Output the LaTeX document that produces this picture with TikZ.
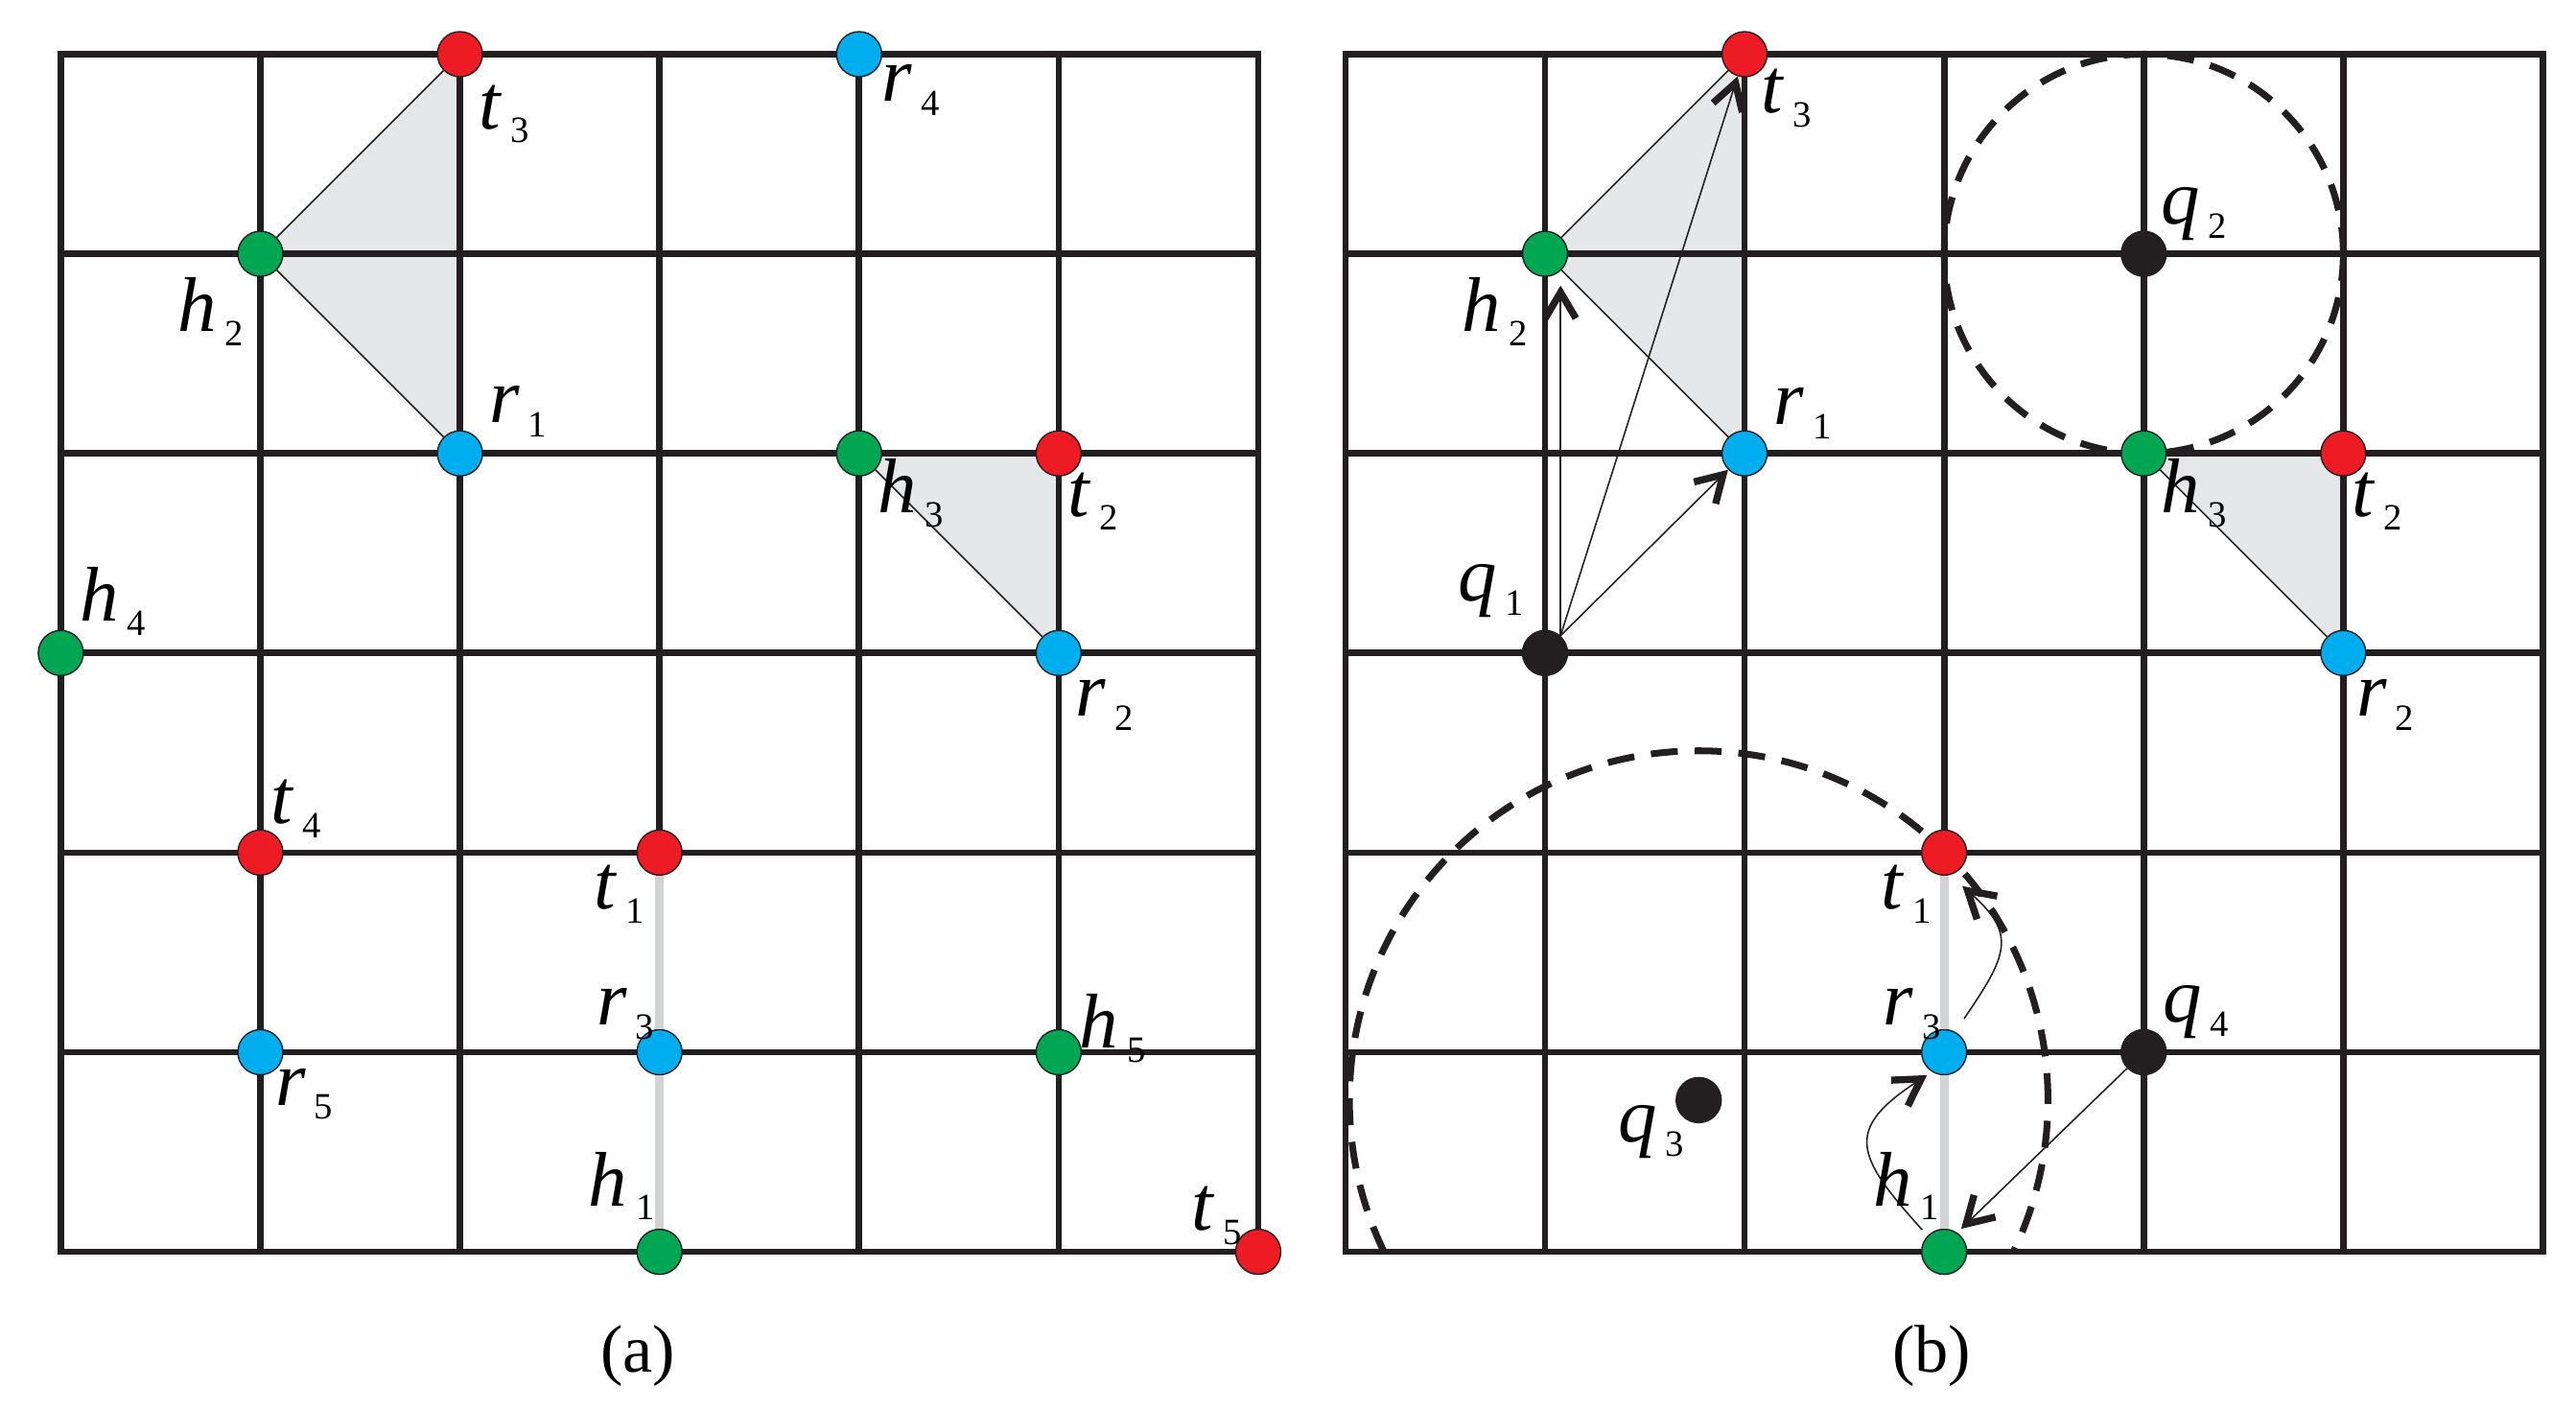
\documentclass[tikz,border=0pt]{standalone}
\usepackage{fontspec}
\setmainfont{Liberation Serif}
\usetikzlibrary{arrows.meta}
\definecolor{ptred}{HTML}{ED1C24}
\definecolor{ptgreen}{HTML}{00A651}
\definecolor{ptblue}{HTML}{00AEEF}
\definecolor{ptblack}{HTML}{231F20}
\definecolor{gridcol}{HTML}{231F20}
\definecolor{trifill}{HTML}{E6E7E8}
\definecolor{seggrey}{HTML}{D1D3D4}
\newcommand\vlab[2]{\textit{#1}\kern2.5pt\raisebox{-4.2pt}{\fontsize{11}{11}\selectfont #2}}
\begin{document}
\begin{tikzpicture}[x=2.081cm,y=2.081cm,
  gridline/.style={line width=1.9pt, draw=gridcol},
  pt/.style={circle, draw=gridcol, line width=0.4pt, inner sep=0pt, minimum size=0.47cm},
  rpt/.style={pt, fill=ptred},
  gpt/.style={pt, fill=ptgreen},
  bpt/.style={pt, fill=ptblue},
  kpt/.style={pt, fill=ptblack},
  lab/.style={inner sep=0pt, font=\fontsize{23}{23}\selectfont},
  captext/.style={inner sep=0pt, font=\fontsize{20}{20}\selectfont},
  thinl/.style={line width=0.45pt, draw=gridcol},
  arr/.style={thinl, -{Straight Barb[length=2.7mm,width=3.2mm,line width=2.1pt]}},
  dcirc/.style={line width=2pt, dash pattern=on 8pt off 5pt, draw=gridcol},
  seg/.style={line width=2.6pt, draw=seggrey},
  trif/.style={fill=trifill}]
\useasboundingbox (-0.3047,0.2715) rectangle (12.603,-6.788);

% ================= panel (a) =================
\fill[trif] (1,-1) -- (2,0) -- (2,-2) -- cycle;
\fill[trif] (4,-2) -- (5,-2) -- (5,-3) -- cycle;
\foreach \i in {1,...,5} {
  \draw[gridline] (\i,0) -- (\i,-6);
  \draw[gridline] (0,-\i) -- (6,-\i);
}
\draw[gridline] (0,0) rectangle (6,-6);

\node[rpt] (aT3) at (2,0) {};
\node[bpt] (aR4) at (4,0) {};
\node[gpt] (aH2) at (1,-1) {};
\node[bpt] (aR1) at (2,-2) {};
\node[gpt] (aH3) at (4,-2) {};
\node[rpt] (aT2) at (5,-2) {};
\node[gpt] (aH4) at (0,-3) {};
\node[bpt] (aR2) at (5,-3) {};
\node[rpt] (aT4) at (1,-4) {};
\node[rpt] (aT1) at (3,-4) {};
\node[bpt] (aR5) at (1,-5) {};
\node[bpt] (aR3) at (3,-5) {};
\node[gpt] (aH5) at (5,-5) {};
\node[gpt] (aH1) at (3,-6) {};
\node[rpt] (aT5) at (6,-6) {};

\draw[seg] (aT1) -- (aR3);
\draw[seg] (aR3) -- (aH1);
\draw[thinl] (aH2) -- (aT3);
\draw[thinl] (aH2) -- (aR1);
\draw[thinl] (aH3) -- (aR2);

\node[lab] (aT3l) at ([shift={(0.22,-0.30)}]aT3.center) {\vlab{t}{3}};
\node[lab] (aR4l) at ([shift={(0.26,-0.18)}]aR4.center) {\vlab{r}{4}};
\node[lab] (aH2l) at ([shift={(-0.25,-0.29)}]aH2.center) {\vlab{h}{2}};
\node[lab] (aR1l) at ([shift={(0.29,0.21)}]aR1.center) {\vlab{r}{1}};
\node[lab] (aH3l) at ([shift={(0.26,-0.20)}]aH3.center) {\vlab{h}{3}};
\node[lab] (aT2l) at ([shift={(0.17,-0.24)}]aT2.center) {\vlab{t}{2}};
\node[lab] (aH4l) at ([shift={(0.26,0.26)}]aH4.center) {\vlab{h}{4}};
\node[lab] (aR2l) at ([shift={(0.23,-0.26)}]aR2.center) {\vlab{r}{2}};
\node[lab] (aT4l) at ([shift={(0.18,0.22)}]aT4.center) {\vlab{t}{4}};
\node[lab] (aT1l) at ([shift={(-0.20,-0.21)}]aT1.center) {\vlab{t}{1}};
\node[lab] (aR5l) at ([shift={(0.22,-0.21)}]aR5.center) {\vlab{r}{5}};
\node[lab] (aR3l) at ([shift={(-0.17,0.19)}]aR3.center) {\vlab{r}{3}};
\node[lab] (aH5l) at ([shift={(0.27,0.12)}]aH5.center) {\vlab{h}{5}};
\node[lab] (aH1l) at ([shift={(-0.19,0.33)}]aH1.center) {\vlab{h}{1}};
\node[lab] (aT5l) at ([shift={(-0.21,0.18)}]aT5.center) {\vlab{t}{5}};

\node[captext] (capA) at (2.891,-6.52) {(a)};

% ================= panel (b) =================
\begin{scope}[shift={(6.437,0)}]
\fill[trif] (1,-1) -- (2,0) -- (2,-2) -- cycle;
\fill[trif] (4,-2) -- (5,-2) -- (5,-3) -- cycle;
\foreach \i in {1,...,5} {
  \draw[gridline] (\i,0) -- (\i,-6);
  \draw[gridline] (0,-\i) -- (6,-\i);
}
\draw[gridline] (0,0) rectangle (6,-6);

\begin{scope}
  \clip (-0.5,0.5) rectangle (6.5,-6);
  \draw[dcirc] (4,-1) circle (1);
  \draw[dcirc] (1.77,-5.24) circle (1.75);
\end{scope}

\node[rpt] (bT3) at (2,0) {};
\node[gpt] (bH2) at (1,-1) {};
\node[bpt] (bR1) at (2,-2) {};
\node[kpt] (bQ2) at (4,-1) {};
\node[gpt] (bH3) at (4,-2) {};
\node[rpt] (bT2) at (5,-2) {};
\node[kpt] (bQ1) at (1,-3) {};
\node[bpt] (bR2) at (5,-3) {};
\node[rpt] (bT1) at (3,-4) {};
\node[bpt] (bR3) at (3,-5) {};
\node[kpt] (bQ4) at (4,-5) {};
\node[gpt] (bH1) at (3,-6) {};
\node[kpt] (bQ3) at (1.77,-5.24) {};

\draw[seg] (bT1) -- (bR3);
\draw[seg] (bR3) -- (bH1);
\draw[thinl] (bH2) -- (bT3);
\draw[thinl] (bH2) -- (bR1);
\draw[thinl] (bH3) -- (bR2);

\coordinate (q1src) at (bQ1.48);
\coordinate (h2dst) at ([xshift=0.156cm,yshift=-0.33cm]bH2.center);
\draw[arr] (q1src) -- (q1src |- h2dst);
\draw[arr] (q1src) -- (bT3);
\draw[arr] (q1src) -- (bR1);
\draw[arr] ([shift={(-0.11,0.11)}]bH1.center) to[out=132,in=213,looseness=1.65] ([shift={(-0.086,-0.115)}]bR3.center);
\draw[arr] ([shift={(0.10,0.168)}]bR3.center) to[out=56,in=-41,looseness=1.44] ([shift={(0.091,-0.168)}]bT1.center);
\draw[arr] (bQ4) -- ([shift={(0.085,0.115)}]bH1.center);

\node[lab] (bT3l) at ([shift={(0.21,-0.22)}]bT3.center) {\vlab{t}{3}};
\node[lab] (bQ2l) at ([shift={(0.25,0.20)}]bQ2.center) {\vlab{q}{2}};
\node[lab] (bH2l) at ([shift={(-0.25,-0.29)}]bH2.center) {\vlab{h}{2}};
\node[lab] (bR1l) at ([shift={(0.29,0.20)}]bR1.center) {\vlab{r}{1}};
\node[lab] (bH3l) at ([shift={(0.25,-0.20)}]bH3.center) {\vlab{h}{3}};
\node[lab] (bT2l) at ([shift={(0.17,-0.24)}]bT2.center) {\vlab{t}{2}};
\node[lab] (bQ1l) at ([shift={(-0.27,0.31)}]bQ1.center) {\vlab{q}{1}};
\node[lab] (bR2l) at ([shift={(0.21,-0.26)}]bR2.center) {\vlab{r}{2}};
\node[lab] (bT1l) at ([shift={(-0.19,-0.21)}]bT1.center) {\vlab{t}{1}};
\node[lab] (bR3l) at ([shift={(-0.16,0.19)}]bR3.center) {\vlab{r}{3}};
\node[lab] (bQ4l) at ([shift={(0.26,0.20)}]bQ4.center) {\vlab{q}{4}};
\node[lab] (bQ3l) at ([shift={(-0.24,-0.16)}]bQ3.center) {\vlab{q}{3}};
\node[lab] (bH1l) at ([shift={(-0.19,0.33)}]bH1.center) {\vlab{h}{1}};

\node[captext] (capB) at (2.938,-6.52) {(b)};
\end{scope}
\end{tikzpicture}
\end{document}
